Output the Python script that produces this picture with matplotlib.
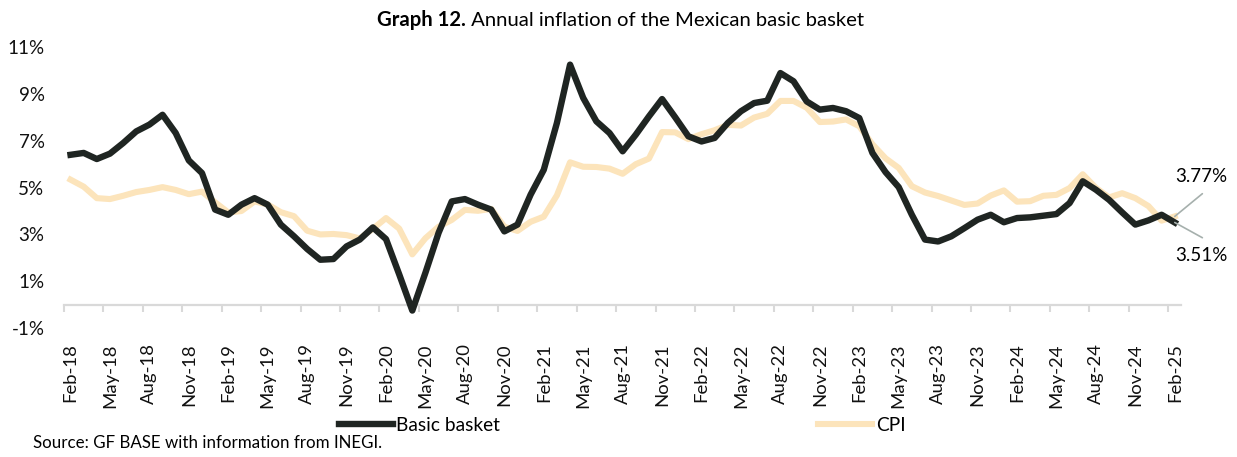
import matplotlib
matplotlib.use('Agg')
import matplotlib.pyplot as plt
import numpy as np
import pandas as pd

# monthly data, Feb-18 .. Feb-25 (annual % change)
months = pd.date_range('2018-02-01', '2025-02-01', freq='MS').strftime('%b-%y').tolist()
basic_basket = [6.40, 6.48, 6.22, 6.45, 6.90, 7.40, 7.69, 8.11, 7.33, 6.16, 5.62, 4.06,
                3.84, 4.27, 4.55, 4.27, 3.42, 2.92, 2.38, 1.92, 1.95, 2.49, 2.78, 3.30,
                2.80, 1.30, -0.25, 1.37, 3.07, 4.41, 4.51, 4.27, 4.06, 3.13, 3.42, 4.70,
                5.76, 7.76, 10.25, 8.83, 7.83, 7.33, 6.55, 7.26, 8.04, 8.78, 8.00,
                7.19, 6.97, 7.12, 7.76, 8.26, 8.61, 8.71, 9.89, 9.54, 8.68, 8.33, 8.40,
                8.26, 7.97, 6.48, 5.66, 5.02, 3.84, 2.78, 2.70, 2.92, 3.27, 3.63, 3.84, 3.52,
                3.70, 3.73, 3.80, 3.87, 4.34, 5.27, 4.91, 4.48, 3.94, 3.42, 3.60, 3.84, 3.51]
cpi = [5.34, 5.04, 4.55, 4.51, 4.65, 4.81, 4.90, 5.02, 4.90, 4.72, 4.83, 4.37,
       3.94, 4.00, 4.41, 4.28, 3.95, 3.78, 3.16, 3.00, 3.02, 2.97, 2.83, 3.24,
       3.70, 3.25, 2.15, 2.84, 3.33, 3.62, 4.05, 4.01, 4.09, 3.33, 3.15, 3.54,
       3.76, 4.67, 6.08, 5.89, 5.88, 5.81, 5.59, 6.00, 6.24, 7.37, 7.36, 7.07,
       7.28, 7.45, 7.68, 7.65, 7.99, 8.15, 8.70, 8.70, 8.41, 7.80, 7.82, 7.91,
       7.62, 6.85, 6.25, 5.84, 5.06, 4.79, 4.64, 4.45, 4.26, 4.32, 4.66, 4.88,
       4.40, 4.42, 4.65, 4.69, 4.98, 5.57, 4.99, 4.58, 4.76, 4.55, 4.21, 3.59, 3.77]
y_ticks = [-1, 1, 3, 5, 7, 9, 11]

plt.rcParams['font.family'] = ['Lato', 'DejaVu Sans']

fig = plt.figure(figsize=(12.37, 4.57), dpi=100)
ax = fig.add_axes([0.0517, 0.282, 0.9033, 0.615])

x = np.arange(len(months))
ax.plot(x, cpi, color='#FCE4BB', lw=4.4, label='CPI', zorder=2)
ax.plot(x, basic_basket, color='#1F2522', lw=4.6, label='Basic basket', zorder=3)

ax.set_xlim(-0.5, len(months) - 0.5)
ax.set_ylim(-1, 11)
ax.set_yticks(y_ticks)
ax.set_yticklabels([f'{v}%' for v in y_ticks])
ax.tick_params(axis='y', length=0, pad=14, labelsize=13.5, labelcolor='#111111')

ax.set_xticks(x[::3])
ax.set_xticklabels(months[::3], rotation=90)
ax.tick_params(axis='x', length=0, pad=11, labelsize=13.3, labelcolor='#111111')
for s in ax.spines.values():
    s.set_visible(False)

# category axis line drawn at 0%
sec = ax.secondary_xaxis(0, transform=ax.transData)
sec.set_xticks(np.arange(-0.5, len(months), 3))
sec.tick_params(axis='x', length=5, width=1.5, color='#D9D9D9', labelbottom=False)
sec.spines['bottom'].set_color('#D9D9D9')
sec.spines['bottom'].set_linewidth(1.6)

# end-point labels
last = len(months) - 1
ax.annotate('', xy=(last, cpi[-1]), xytext=(last + 2.1, 4.74),
            arrowprops=dict(arrowstyle='-', color='#A6B0AD', lw=1.2, shrinkA=0, shrinkB=0),
            annotation_clip=False)
ax.annotate('', xy=(last, basic_basket[-1]), xytext=(last + 2.1, 2.86),
            arrowprops=dict(arrowstyle='-', color='#A6B0AD', lw=1.2, shrinkA=0, shrinkB=0),
            annotation_clip=False)
ax.text(last + 0.05, 5.47, f'{cpi[-1]:.2f}%', fontsize=13.5, va='center', ha='left', clip_on=False)
ax.text(last + 0.05, 2.09, f'{basic_basket[-1]:.2f}%', fontsize=13.5, va='center', ha='left', clip_on=False)

# title: bold part + normal part, centred together
t1 = fig.text(0.3, 0.956, 'Graph 12.', fontsize=14.6, fontweight='bold', va='center', ha='left')
t2 = ax.annotate(' Annual inflation of the Mexican basic basket', xy=(1, 0.5), xycoords=t1,
                 fontsize=14.6, va='center', ha='left')
fig.canvas.draw()
r = fig.canvas.get_renderer()
w = (t1.get_window_extent(r).width + t2.get_window_extent(r).width) / fig.bbox.width
t1.set_x(0.5013 - w / 2)

handles, labels = ax.get_legend_handles_labels()
leg = fig.legend(handles[::-1], labels[::-1], loc='center', bbox_to_anchor=(0.503, 0.07), ncol=2,
                 frameon=False, fontsize=13.8, handlelength=2.8, handletextpad=0.2,
                 columnspacing=16.6, borderaxespad=0)

fig.text(0.027, 0.013, 'Source: GF BASE with information from INEGI.', fontsize=12.2, va='bottom', ha='left')

fig.savefig('out.png', dpi=100)
